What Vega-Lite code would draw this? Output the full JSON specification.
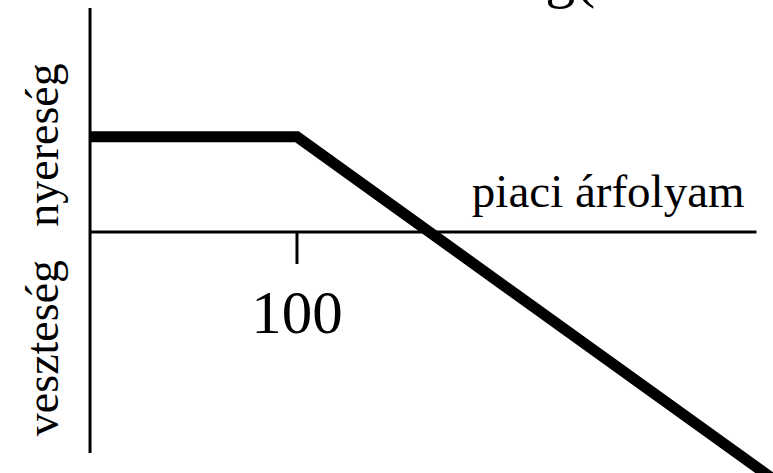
{
  "$schema": "https://vega.github.io/schema/vega-lite/v6.json",
  "width": 773,
  "height": 473,
  "padding": 0,
  "autosize": {"type": "none"},
  "background": "white",
  "config": {"view": {"stroke": null}},
  "datasets": {
    "payoff": [
      {"price": 0, "profit": 64},
      {"price": 100, "profit": 64},
      {"price": 330, "profit": -166}
    ],
    "yAxisLine": [{"x": 0, "y": 150.6, "y2": -148.6}],
    "xAxisLine": [{"y": 0, "x": 0, "x2": 322}],
    "strikeTick": [{"x": 100, "y": 0, "y2": -21.5}],
    "strikeLabel": [{"x": 100, "y": -67.9, "text": "100"}],
    "axisTitle": [{"x": 184.5, "y": 16.8, "text": "piaci árfolyam"}],
    "heading": [{"x": 220, "y": 159, "text": "g("}],
    "sideLabels": [
      {"x": -15.5, "y": 58.5, "text": "nyereség"},
      {"x": -15.5, "y": -78, "text": "veszteség"}
    ]
  },
  "layer": [
    {
      "data": {"name": "yAxisLine"},
      "mark": {"type": "rule", "color": "black", "strokeWidth": 3},
      "encoding": {
        "x": {"field": "x", "type": "quantitative", "axis": null,
              "scale": {"domain": [-43.5, 330], "nice": false, "zero": false}},
        "y": {"field": "y", "type": "quantitative", "axis": null,
              "scale": {"domain": [-162, 156], "nice": false, "zero": false}},
        "y2": {"field": "y2"}
      }
    },
    {
      "data": {"name": "xAxisLine"},
      "mark": {"type": "rule", "color": "black", "strokeWidth": 3},
      "encoding": {
        "x": {"field": "x", "type": "quantitative", "axis": null},
        "x2": {"field": "x2"},
        "y": {"field": "y", "type": "quantitative", "axis": null}
      }
    },
    {
      "data": {"name": "strikeTick"},
      "mark": {"type": "rule", "color": "black", "strokeWidth": 3},
      "encoding": {
        "x": {"field": "x", "type": "quantitative", "axis": null},
        "y": {"field": "y", "type": "quantitative", "axis": null},
        "y2": {"field": "y2"}
      }
    },
    {
      "data": {"name": "payoff"},
      "mark": {"type": "line", "color": "black", "strokeWidth": 11, "clip": true,
               "strokeCap": "butt", "strokeJoin": "miter"},
      "encoding": {
        "x": {"field": "price", "type": "quantitative", "axis": null},
        "y": {"field": "profit", "type": "quantitative", "axis": null}
      }
    },
    {
      "data": {"name": "strikeLabel"},
      "mark": {"type": "text", "font": "Liberation Serif", "color": "black", "fontSize": 61,
               "align": "center", "baseline": "alphabetic"},
      "encoding": {
        "x": {"field": "x", "type": "quantitative", "axis": null},
        "y": {"field": "y", "type": "quantitative", "axis": null},
        "text": {"field": "text"}
      }
    },
    {
      "data": {"name": "axisTitle"},
      "mark": {"type": "text", "font": "Liberation Serif", "color": "black", "fontSize": 47,
               "align": "left", "baseline": "alphabetic"},
      "encoding": {
        "x": {"field": "x", "type": "quantitative", "axis": null},
        "y": {"field": "y", "type": "quantitative", "axis": null},
        "text": {"field": "text"}
      }
    },
    {
      "data": {"name": "heading"},
      "mark": {"type": "text", "font": "Liberation Serif", "color": "black", "fontSize": 60,
               "align": "left", "baseline": "alphabetic"},
      "encoding": {
        "x": {"field": "x", "type": "quantitative", "axis": null},
        "y": {"field": "y", "type": "quantitative", "axis": null},
        "text": {"field": "text"}
      }
    },
    {
      "data": {"name": "sideLabels"},
      "mark": {"type": "text", "font": "Liberation Serif", "color": "black", "fontSize": 46,
               "angle": 270, "align": "center", "baseline": "alphabetic"},
      "encoding": {
        "x": {"field": "x", "type": "quantitative", "axis": null},
        "y": {"field": "y", "type": "quantitative", "axis": null},
        "text": {"field": "text"}
      }
    }
  ]
}
